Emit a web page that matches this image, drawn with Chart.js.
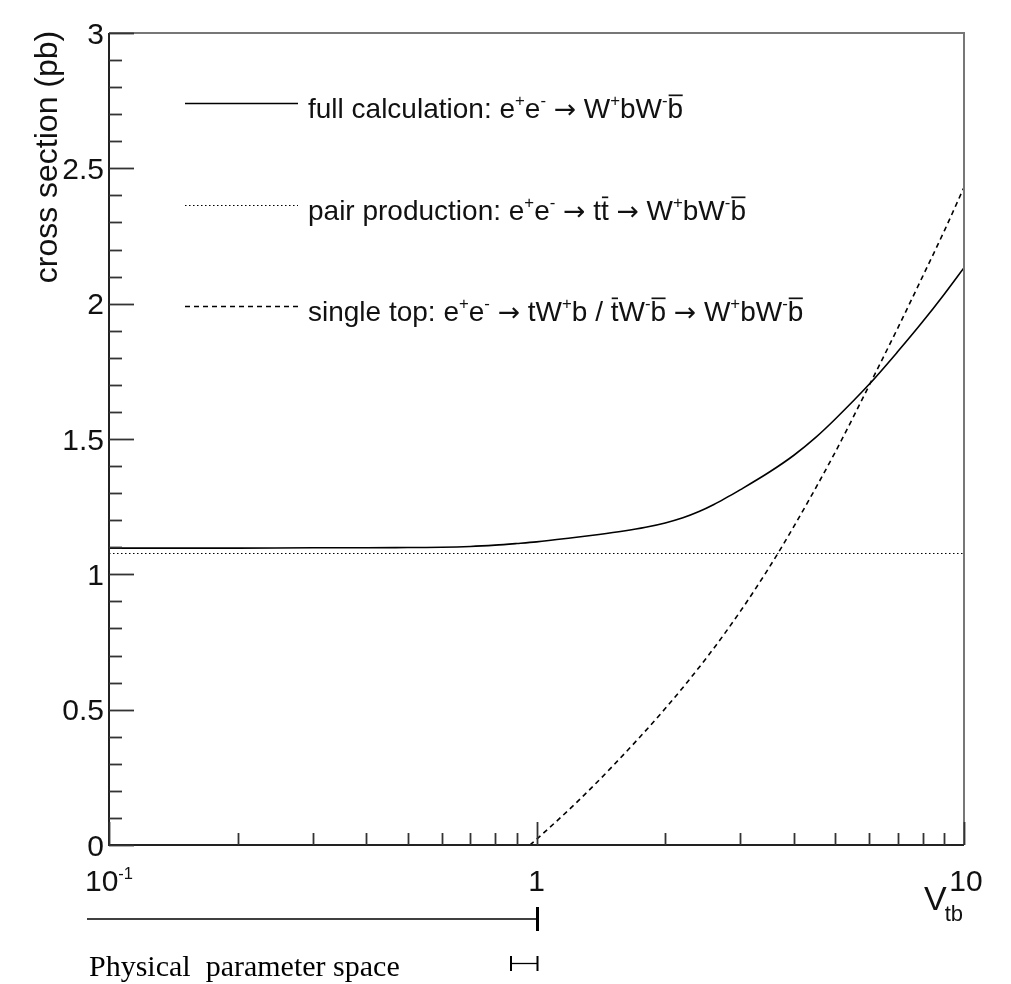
<!DOCTYPE html>
<html><head><meta charset="utf-8">
<script src="https://cdn.jsdelivr.net/npm/chart.js@4/dist/chart.umd.min.js"></script>
<style>html,body{margin:0;padding:0;background:#fff;} #wrap{width:1011px;height:984px;position:relative;}</style>
</head><body><div id="wrap"><canvas id="c" width="1011" height="984"></canvas></div>
<script>
// ---- data ----
const fullX = [0.1,0.15,0.2,0.3,0.4,0.5,0.6,0.7,0.8,0.9,1,1.2,1.4,1.6,1.8,2,2.2,2.4,2.6,2.8,3,3.5,4,4.5,5,6,7,8,9,10];
const fullY = [1.097,1.097,1.097,1.098,1.098,1.099,1.100,1.103,1.108,1.114,1.120,1.134,1.147,1.160,1.174,1.190,1.209,1.232,1.258,1.286,1.313,1.377,1.440,1.506,1.574,1.702,1.823,1.933,2.036,2.133];
const pairX = [0.1, 10];
const pairY = [1.077, 1.077];
const singleX = [0.965,1,1.25,1.5,2,2.5,3,3.5,4,5,6,7,8,9,10];
const singleY = [0,0.021,0.162,0.288,0.504,0.692,0.864,1.025,1.177,1.452,1.698,1.91,2.10,2.27,2.43];

const yMajorTicks = [0,0.5,1,1.5,2,2.5,3];
const yTickLabels = ['0','0.5','1','1.5','2','2.5','3'];
const yMinorTicks = [0.1,0.2,0.3,0.4,0.6,0.7,0.8,0.9,1.1,1.2,1.3,1.4,1.6,1.7,1.8,1.9,2.1,2.2,2.3,2.4,2.6,2.7,2.8,2.9];
const xMajorTicks = [0.1,1,10];
const xTickLabels = ['10^{-1}','1','10'];
const xMinorTicks = [0.2,0.3,0.4,0.5,0.6,0.7,0.8,0.9,2,3,4,5,6,7,8,9];
const legendLabels = [
  'full calculation: e^{+}e^{-} \u2192 W^{+}bW^{-}#bar{b}',
  'pair production: e^{+}e^{-} \u2192 t#bar{t} \u2192 W^{+}bW^{-}#bar{b}',
  'single top: e^{+}e^{-} \u2192 tW^{+}b / #bar{t}W^{-}#bar{b} \u2192 W^{+}bW^{-}#bar{b}'
];
const yTitle = 'cross section (pb)';
const xTitleMain = 'V';
const xTitleSub = 'tb';
const noteText = 'Physical  parameter space';

const SANS = '"Liberation Sans", Arial, Helvetica, sans-serif';
const SERIF = '"Liberation Serif", "Times New Roman", serif';
const ARROWFONT = '"DejaVu Sans", sans-serif';

function parseRich(s){
  const toks=[]; let i=0; let buf='';
  const flush=()=>{ if(buf){toks.push({text:buf,mode:'n',bar:false}); buf='';} };
  while(i<s.length){
    if((s[i]==='^'||s[i]==='_') && s[i+1]==='{'){
      flush(); const j=s.indexOf('}',i);
      toks.push({text:s.slice(i+2,j),mode:s[i]==='^'?'sup':'sub',bar:false}); i=j+1;
    } else if(s.startsWith('#bar{',i)){
      flush(); const j=s.indexOf('}',i);
      toks.push({text:s.slice(i+5,j),mode:'n',bar:true}); i=j+1;
    } else if(s[i]==='\u2192'){
      flush(); toks.push({text:s[i],mode:'arrow',bar:false}); i++;
    } else { buf+=s[i]; i++; }
  }
  flush(); return toks;
}
function drawRich(ctx,s,x,y,opt){
  const size=opt.size, family=opt.family||SANS, align=opt.align||'left';
  const supScale=opt.supScale||0.6, supRise=opt.supRise||0.42, subScale=opt.subScale||0.65, subDrop=opt.subDrop||0.3;
  const toks=parseRich(s);
  const fontFor=m=> m==='arrow' ? (size*0.95)+'px '+ARROWFONT :
      (m==='n'?size:(m==='sup'?size*supScale:size*subScale))+'px '+family;
  let w=0;
  for(const t of toks){ctx.font=fontFor(t.mode); t.w=ctx.measureText(t.text).width; w+=t.w;}
  let cx = align==='center'? x-w/2 : align==='right'? x-w : x;
  ctx.fillStyle=opt.color||'#111'; ctx.textBaseline='alphabetic'; ctx.textAlign='left';
  for(const t of toks){
    ctx.font=fontFor(t.mode);
    let by=y; if(t.mode==='sup') by=y-size*supRise; if(t.mode==='sub') by=y+size*subDrop;
    ctx.fillText(t.text,cx,by);
    if(t.bar){ ctx.fillRect(cx+1, y-size*0.84, t.w-1.5, 1.7); }
    cx+=t.w;
  }
  return w;
}

const toPts=(xs,ys)=>xs.map((x,i)=>({x:x,y:ys[i]}));

const rootPlugin = {
  id:'rootStyle',
  afterDatasetsDraw(chart){
    const ctx=chart.ctx, xs=chart.scales.x, ys=chart.scales.y, a=chart.chartArea;
    ctx.save();
    // frame
    ctx.strokeStyle='#777'; ctx.lineWidth=2;
    ctx.beginPath(); ctx.moveTo(a.left,a.top); ctx.lineTo(a.right,a.top); ctx.lineTo(a.right,a.bottom); ctx.stroke();
    ctx.strokeStyle='#222'; ctx.lineWidth=2;
    ctx.beginPath(); ctx.moveTo(a.left,a.top); ctx.lineTo(a.left,a.bottom); ctx.lineTo(a.right,a.bottom); ctx.stroke();
    // y ticks
    ctx.strokeStyle='#333'; ctx.lineWidth=1.8;
    for(const v of yMajorTicks){ const p=Math.round(ys.getPixelForValue(v))+0.5;
      ctx.beginPath(); ctx.moveTo(a.left,p); ctx.lineTo(a.left+25,p); ctx.stroke(); }
    for(const v of yMinorTicks){ const p=Math.round(ys.getPixelForValue(v))+0.5;
      ctx.beginPath(); ctx.moveTo(a.left,p); ctx.lineTo(a.left+13,p); ctx.stroke(); }
    // x ticks
    for(const v of xMinorTicks){ const p=Math.round(xs.getPixelForValue(v))+0.5;
      ctx.beginPath(); ctx.moveTo(p,a.bottom); ctx.lineTo(p,a.bottom-12); ctx.stroke(); }
    for(const v of xMajorTicks){ const p=Math.round(xs.getPixelForValue(v))+0.5;
      ctx.beginPath(); ctx.moveTo(p,a.bottom); ctx.lineTo(p,a.bottom-23); ctx.stroke(); }
    // y labels
    yMajorTicks.forEach((v,i)=>{ drawRich(ctx,yTickLabels[i],a.left-5,ys.getPixelForValue(v)+10.7,{size:30,align:'right'}); });
    // x labels
    xMajorTicks.forEach((v,i)=>{ drawRich(ctx,xTickLabels[i],xs.getPixelForValue(v)+(i===2?2:0),891,{size:30,align:'center',supScale:0.55,supRise:0.4}); });
    // x title
    ctx.font='34px '+SANS; ctx.fillStyle='#111'; ctx.textAlign='left'; ctx.textBaseline='alphabetic';
    ctx.fillText(xTitleMain,924,910);
    const vw=ctx.measureText(xTitleMain).width;
    ctx.font='22px '+SANS; ctx.fillText(xTitleSub,924+vw-2,921);
    // y title
    ctx.save(); ctx.translate(57,157); ctx.rotate(-Math.PI/2);
    ctx.font='32px '+SANS; ctx.textAlign='center'; ctx.fillText(yTitle,0,0); ctx.restore();
    // legend
    const rows=[103,205,306];
    chart.data.datasets.forEach((ds,i)=>{
      ctx.save(); ctx.strokeStyle=ds.borderColor; ctx.lineWidth=ds.borderWidth; ctx.setLineDash(ds.borderDash||[]);
      ctx.beginPath(); ctx.moveTo(185,rows[i]+0.5); ctx.lineTo(298,rows[i]+0.5); ctx.stroke(); ctx.restore();
      drawRich(ctx,legendLabels[i],308,rows[i]+15,{size:28});
    });
    // physical parameter space bar
    const p1=xs.getPixelForValue(1);
    ctx.strokeStyle='#000'; ctx.lineWidth=1.3;
    ctx.beginPath(); ctx.moveTo(87,919); ctx.lineTo(p1,919); ctx.stroke();
    ctx.lineWidth=3; ctx.beginPath(); ctx.moveTo(p1+1,907); ctx.lineTo(p1+1,931); ctx.stroke();
    ctx.lineWidth=1.3; ctx.beginPath(); ctx.moveTo(511,963.5); ctx.lineTo(p1+1,963.5); ctx.stroke();
    ctx.lineWidth=2; ctx.beginPath(); ctx.moveTo(511,956); ctx.lineTo(511,971); ctx.moveTo(p1+1,956); ctx.lineTo(p1+1,971); ctx.stroke();
    ctx.font='30px '+SERIF; ctx.fillStyle='#000'; ctx.textAlign='left'; ctx.textBaseline='alphabetic';
    ctx.fillText(noteText,89,976);
    ctx.restore();
  }
};

new Chart(document.getElementById('c'),{
  type:'line',
  data:{datasets:[
    {label:'full',data:toPts(fullX,fullY),borderColor:'#000',borderWidth:1.6,borderDash:[],pointRadius:0,cubicInterpolationMode:'monotone',fill:false},
    {label:'pair',data:toPts(pairX,pairY),borderColor:'#000',borderWidth:1,borderDash:[1.5,2.5],pointRadius:0,fill:false},
    {label:'single',data:toPts(singleX,singleY),borderColor:'#000',borderWidth:1.6,borderDash:[5,4],pointRadius:0,cubicInterpolationMode:'monotone',fill:false}
  ]},
  options:{
    responsive:false, animation:false, devicePixelRatio:1,
    layout:{padding:{left:109,right:47,top:33,bottom:139}},
    plugins:{legend:{display:false},tooltip:{enabled:false}},
    scales:{
      x:{type:'logarithmic',min:0.1,max:10,display:false},
      y:{type:'linear',min:0,max:3,display:false}
    }
  },
  plugins:[rootPlugin]
});
</script></body></html>
